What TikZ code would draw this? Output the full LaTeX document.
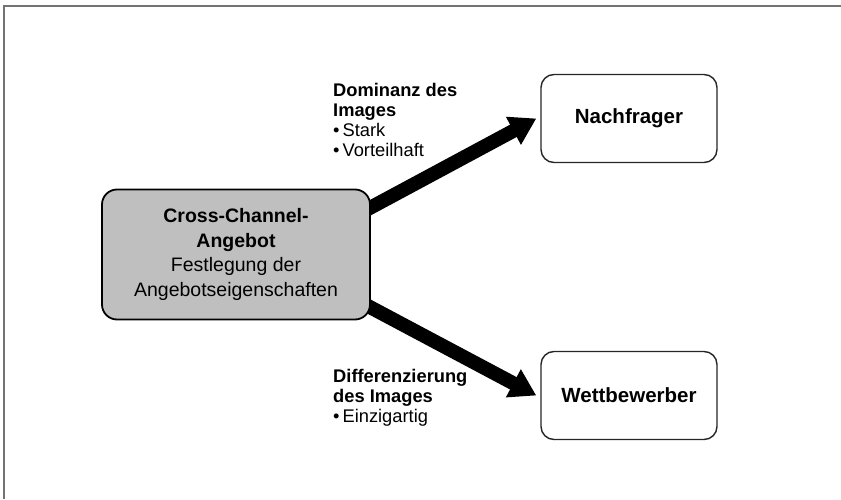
\documentclass[tikz,border=0pt]{standalone}
\usepackage{fontspec}
\setmainfont{Liberation Sans}
\usetikzlibrary{arrows.meta}
\pgfdeclarelayer{background}
\pgfsetlayers{background,main}
\begin{document}
\begin{tikzpicture}[x=1pt,y=1pt,
  graybox/.style={draw=black, line width=1.8pt, fill=gray!50, rounded corners=15pt,
    minimum width=268pt, minimum height=130pt, inner sep=0pt, align=center,
    font=\fontsize{19.5}{24.5}\selectfont},
  whitebox/.style={draw=black!85, line width=1.4pt, fill=white, rounded corners=13pt,
    minimum width=176pt, minimum height=88pt, inner sep=0pt,
    font=\fontsize{20.5}{24}\selectfont\bfseries},
  lbl/.style={anchor=north west, inner sep=0pt, align=left,
    font=\fontsize{18.3}{20}\selectfont},
  bigarrow/.style={line width=14pt, black, -{Triangle[length=26pt,width=30pt]}},
  frameline/.style={draw=black!55, line width=1.6pt}
]
\useasboundingbox (0,0) rectangle (841,499);
% frame
\coordinate (ftl) at (4,493);
\coordinate (ftr) at (841,493);
\coordinate (fbl) at (4,0);
\draw[frameline] (fbl) -- (ftl) -- (ftr);

% nodes
\node[graybox] (g) at (236,244.5) {\textbf{Cross-Channel-}\\\textbf{Angebot}\\Festlegung der\\Angebotseigenschaften};
\node[whitebox] (n) at (629,380.5) {Nachfrager};
\node[whitebox] (w) at (629,103.5) {Wettbewerber};

% labels
\node[lbl] (l1) at (333,416) {\textbf{Dominanz des}\\\textbf{Images}\\•\hspace{3pt}Stark\\•\hspace{3pt}Vorteilhaft};
\node[lbl] (l2) at (333,130) {\textbf{Differenzierung}\\\textbf{des Images}\\•\hspace{3pt}Einzigartig};

% arrows
\begin{pgfonlayer}{background}
\draw[bigarrow] ([yshift=-22pt,xshift=-6pt]g.north east) -- ([xshift=-4pt]n.west);
\draw[bigarrow] ([yshift=16pt,xshift=-6pt]g.south east) -- ([xshift=-4pt]w.west);
\end{pgfonlayer}
\end{tikzpicture}
\end{document}
